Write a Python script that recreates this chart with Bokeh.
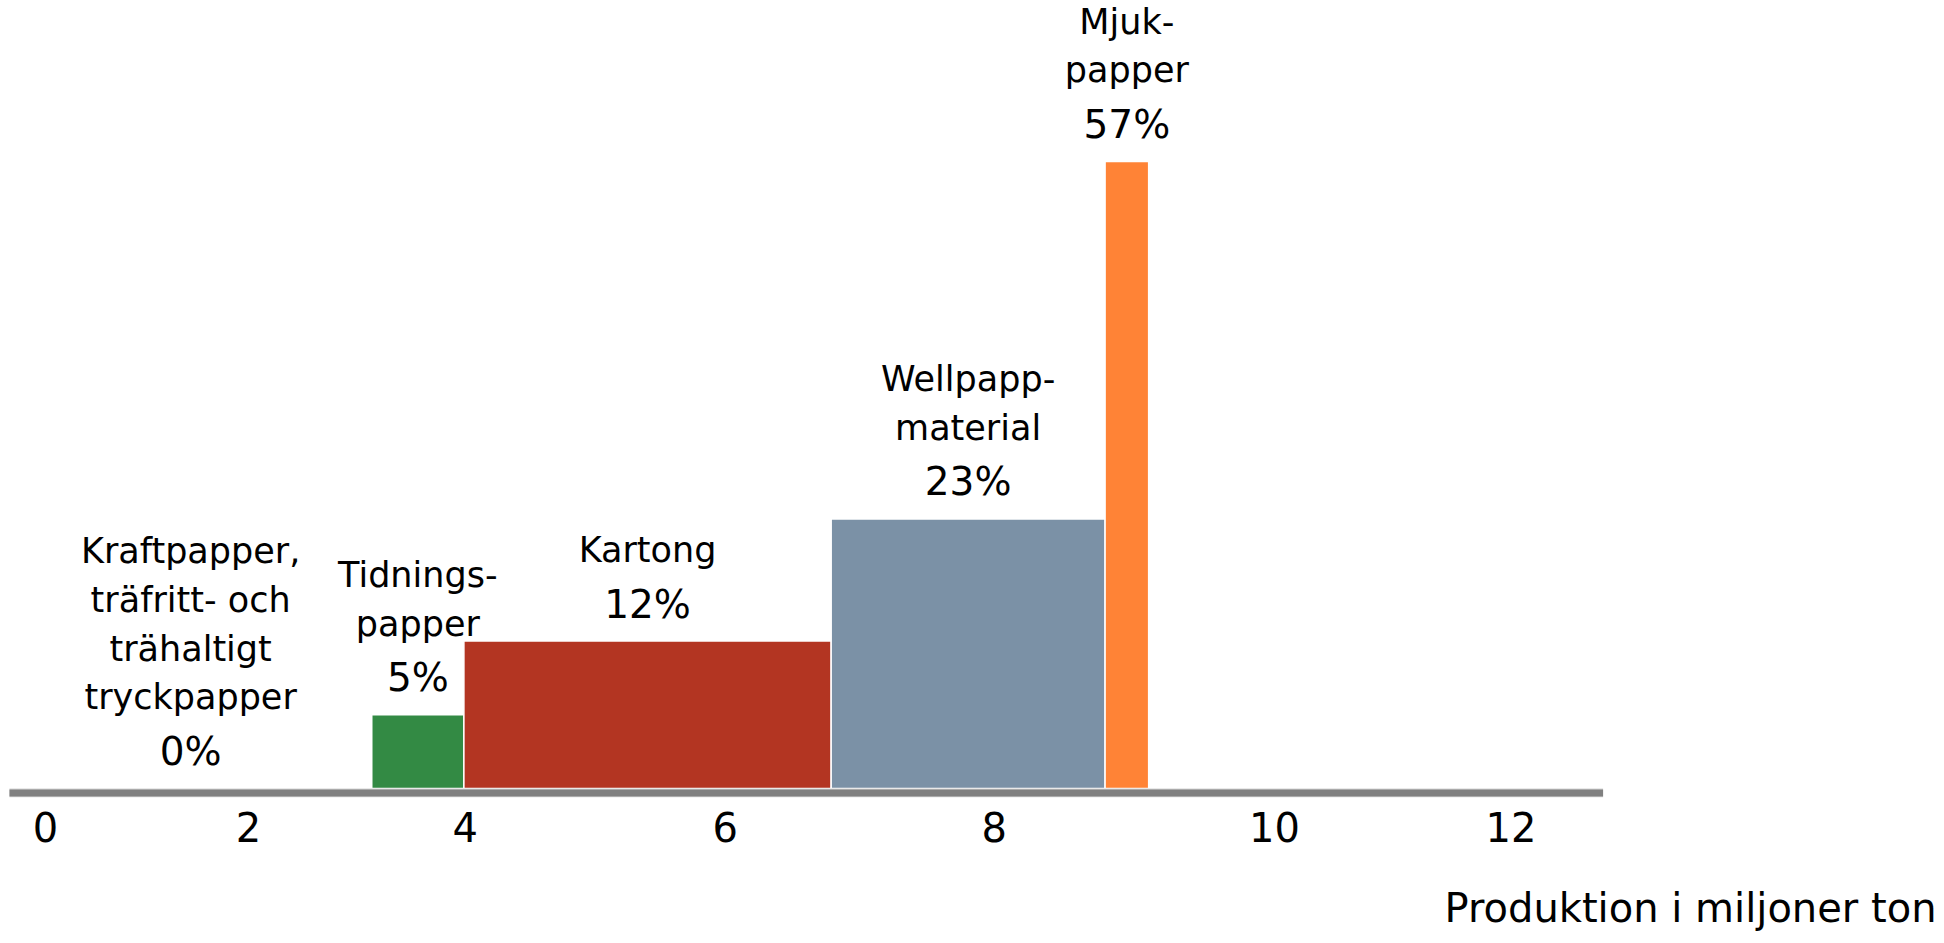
from bokeh.plotting import figure
from bokeh.models import Range1d, FixedTicker, Title, ColumnDataSource
from bokeh.core.properties import value
from bokeh.embed import file_html
from bokeh.resources import INLINE

# ---- data ----
CATEGORIES = ["Kraftpapper,\nträfritt- och\nträhaltigt\ntryckpapper",
              "Tidnings-\npapper", "Kartong", "Wellpapp-\nmaterial", "Mjuk-\npapper"]
SHARE_LABELS = ["0%", "5%", "12%", "23%", "57%"]
PRODUCTION = [2.91, 0.74, 2.95, 2.20, 0.35]          # bar widths (million tons)
BAR_HEIGHT = [0.0, 6.7, 13.4, 24.5, 57.0]            # bar heights as drawn
COLORS = ["#ffffff", "#338a44", "#b33522", "#7b91a6", "#ff8336"]
TICK_POS = [0.29, 1.92, 3.66, 5.75, 7.91, 10.16, 12.06]
TICK_LABELS = ["0", "2", "4", "6", "8", "10", "12"]
AXIS_END = 12.8
X_TITLE = "Produktion i miljoner ton"

left = []
acc = 0.0
for w in PRODUCTION:
    left.append(acc)
    acc += w
right = [l + w for l, w in zip(left, PRODUCTION)]
center = [(l + r) / 2 for l, r in zip(left, right)]

src = ColumnDataSource(dict(left=left, right=right, top=BAR_HEIGHT,
                            bottom=[0] * len(BAR_HEIGHT), color=COLORS,
                            x=center, name=CATEGORIES, pct=SHARE_LABELS))

FONT = "DejaVu Sans"

p = figure(frame_width=1936, frame_height=797, output_backend="svg", toolbar_location=None,
           x_range=Range1d(-0.072, 15.478), y_range=Range1d(-0.818, 71.636),
           y_axis_location=None, min_border_left=0, min_border_right=0,
           min_border_top=0, min_border_bottom=0)
p.xgrid.visible = False
p.ygrid.visible = False
p.outline_line_color = None
p.background_fill_color = "white"

p.quad(left="left", right="right", bottom="bottom", top="top",
       fill_color="color", line_color="white", line_width=1.5, source=src)

# axis baseline
p.segment(x0=[0], x1=[AXIS_END], y0=[-0.41], y1=[-0.41], line_color="#d4d4d4", line_width=9)
p.segment(x0=[0], x1=[AXIS_END], y0=[-0.41], y1=[-0.41], line_color="#808080", line_width=7)

# labels
p.text(x="x", y="top", text="pct", source=src, text_font=value(FONT),
       text_font_size=value("39px"), text_align="center", text_baseline="alphabetic",
       y_offset=-37, text_color="black")
p.text(x="x", y="top", text="name", source=src, text_font=value(FONT),
       text_font_size=value("35px"), text_align="center", text_baseline="bottom",
       y_offset=-71, text_color="black", text_line_height=1.22)

ax = p.xaxis[0]
ax.ticker = FixedTicker(ticks=TICK_POS)
ax.major_label_overrides = {t: l for t, l in zip(TICK_POS, TICK_LABELS)}
ax.axis_line_color = None
ax.major_tick_line_color = None
ax.minor_tick_line_color = None
ax.major_label_standoff = 8
ax.major_label_text_font = FONT
ax.major_label_text_font_size = "40px"
ax.major_label_text_color = "black"

p.add_layout(Title(text=X_TITLE, align="right", text_font=FONT,
                   text_font_size="40px", text_font_style="normal",
                   text_color="black", standoff=77), "below")

open("out.html", "w").write(file_html(p, INLINE))
